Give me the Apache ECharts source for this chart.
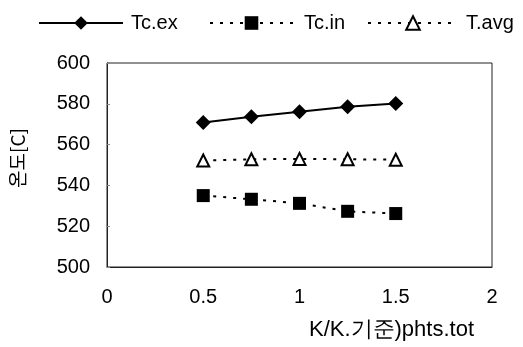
<!DOCTYPE html>
<html>
<head>
<meta charset="utf-8">
<script src="https://cdn.jsdelivr.net/npm/echarts@6/dist/echarts.min.js"></script>
<style>
  html, body { margin: 0; padding: 0; background: #fff; }
  #main { width: 523px; height: 347px; }
</style>
</head>
<body>
<div id="main"></div>
<script>
// K/K기준 ratio on the x axis
var ratios = [0.5, 0.75, 1.0, 1.25, 1.5];
var tcEx = [570.8, 573.7, 576.1, 578.6, 580.2];
var tcIn = [535.0, 533.2, 531.2, 527.3, 526.2];
var tAvg = [552.2, 552.8, 553.0, 552.8, 552.6];
var seriesNames = ['Tc.ex', 'Tc.in', 'T.avg'];

function pairs(vals) {
  return ratios.map(function (x, i) { return [x, vals[i]]; });
}

var myChart = echarts.init(document.getElementById('main'));
var font = 'Liberation Sans, Arial, sans-serif';

// one legend per entry so each can sit where the original has it
function legendItem(name, left, width, pad) {
  return {
    top: 8,
    left: left,
    itemWidth: width,
    itemHeight: 17,
    textStyle: { fontFamily: font, fontSize: 20, color: '#000', padding: [0, 0, 0, pad] },
    data: [name]
  };
}

var option = {
  animation: false,
  backgroundColor: '#fff',
  legend: [
    legendItem(seriesNames[0], 33, 84, 3),
    legendItem(seriesNames[1], 204, 83, 6),
    legendItem(seriesNames[2], 362, 90, 3)
  ],
  grid: {
    left: 104,
    right: 31,
    top: 63,
    bottom: 80,
    show: true,
    borderColor: '#222',
    borderWidth: 1
  },
  xAxis: {
    type: 'value',
    min: 0,
    max: 2,
    interval: 0.5,
    name: 'K/K.기준)phts.tot',
    nameLocation: 'middle',
    nameGap: 52,
    nameTextStyle: { fontFamily: font, fontSize: 22, color: '#000', padding: [0, 0, 0, 184] },
    axisLine: { lineStyle: { color: '#222' } },
    axisTick: { show: false },
    splitLine: { show: false },
    axisLabel: { fontFamily: font, fontSize: 20, color: '#000', margin: 20 }
  },
  yAxis: {
    type: 'value',
    min: 500,
    max: 600,
    interval: 20,
    name: '온도[C]',
    nameLocation: 'middle',
    nameGap: 80,
    nameRotate: 90,
    nameTextStyle: { fontFamily: 'Noto Sans CJK KR', fontSize: 19, color: '#000', padding: [0, 0, 0, 14] },
    axisLine: { show: true, lineStyle: { color: '#222' } },
    axisTick: { show: true, inside: true, length: 3, lineStyle: { color: '#888' } },
    splitLine: { show: false },
    axisLabel: { fontFamily: font, fontSize: 20, color: '#000', margin: 17 }
  },
  series: [
    {
      name: 'Tc.ex',
      type: 'line',
      data: pairs(tcEx),
      symbol: 'diamond',
      symbolSize: 15,
      itemStyle: { color: '#000' },
      lineStyle: { color: '#000', width: 2 }
    },
    {
      name: 'Tc.in',
      type: 'line',
      data: pairs(tcIn),
      symbol: 'rect',
      symbolSize: 13,
      itemStyle: { color: '#000' },
      lineStyle: { color: '#000', width: 2, type: [3, 7] }
    },
    {
      name: 'T.avg',
      type: 'line',
      data: pairs(tAvg),
      symbol: 'triangle',
      symbolSize: 12,
      itemStyle: { color: '#fff', borderColor: '#000', borderWidth: 2 },
      lineStyle: { color: '#000', width: 2, type: [3, 7] }
    }
  ]
};

myChart.setOption(option);
</script>
</body>
</html>
